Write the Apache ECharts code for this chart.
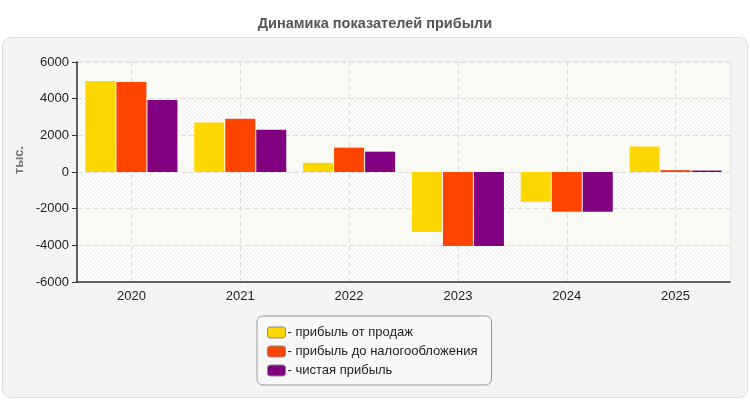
<!DOCTYPE html>
<html><head><meta charset="utf-8">
<script src="https://cdn.jsdelivr.net/npm/echarts@6/dist/echarts.min.js"></script>
<style>html,body{margin:0;padding:0;background:#fff}#c{width:750px;height:400px}</style>
</head><body><div id="c"></div>
<script>
const categories = ['2020','2021','2022','2023','2024','2025'];
const seriesNames = ['прибыль от продаж','прибыль до налогообложения','чистая прибыль'];
const salesProfit = [4970, 2700, 500, -3270, -1625, 1390];
const preTaxProfit = [4910, 2910, 1330, -4030, -2170, 100];
const netProfit = [3930, 2310, 1110, -4030, -2170, 80];
const yTicks = [-6000, -4000, -2000, 0, 2000, 4000, 6000];
const colors = ['#FFD700','#FF4500','#800080'];

function hatch(bg, line){
  const c = document.createElement('canvas');
  c.width = 4; c.height = 4;
  const x = c.getContext('2d');
  x.fillStyle = bg; x.fillRect(0,0,4,4);
  x.strokeStyle = line; x.lineWidth = 1;
  x.beginPath();
  x.moveTo(0,4); x.lineTo(4,0);
  x.moveTo(-2,2); x.lineTo(2,-2);
  x.moveTo(2,6); x.lineTo(6,2);
  x.stroke();
  return {image:c, repeat:'repeat'};
}
const hatchGray = hatch('#ffffff', '#eeeeee');
const hatchCream = hatch('#fdfdf7', '#f6f6ef');

const chart = echarts.init(document.getElementById('c'), null, {renderer:'canvas'});
const data = [salesProfit, preTaxProfit, netProfit];
chart.setOption({
  animation:false,
  textStyle:{fontFamily:'Liberation Sans, Arial, sans-serif'},
  graphic:[{
    type:'rect', z:-10, silent:true,
    shape:{x:2.5, y:37.5, width:745, height:360, r:8},
    style:{fill:'#f4f4f4', stroke:'#dddddd', lineWidth:1}
  },{
    type:'text', silent:true, x:19, y:160, rotation:Math.PI/2,
    style:{text:'тыс.', fill:'#777', font:'bold 13px Liberation Sans, Arial, sans-serif', align:'center', verticalAlign:'middle'}
  }],
  title:{
    text:'Динамика показателей прибыли',
    left:'center', top:11,
    textStyle:{fontSize:14.5, fontWeight:'bold', color:'#555'}
  },
  legend:{
    orient:'vertical', left:257, top:316,
    padding:[10,14,8,10], itemGap:6,
    itemWidth:18, itemHeight:11,
    icon:'roundRect',
    backgroundColor:'#f8f8f8', borderColor:'#999', borderWidth:1, borderRadius:6,
    formatter:'- {name}',
    textStyle:{fontSize:13, color:'#222', padding:[0,0,0,-3]},
    itemStyle:{borderColor:'#888', borderWidth:1},
    data:seriesNames
  },
  grid:{left:77, right:20, top:62, bottom:118, show:true,
    backgroundColor:hatchCream, borderColor:'#dddddd', borderWidth:1},
  xAxis:{
    type:'category', data:categories,
    axisLine:{onZero:false, lineStyle:{color:'#333', width:1.5}},
    axisTick:{alignWithLabel:true, length:5, lineStyle:{color:'#333'}},
    axisLabel:{fontSize:13, color:'#222', margin:8},
    splitLine:{show:true, alignWithLabel:true, lineStyle:{color:'#dddddd', type:[5,3]}}
  },
  yAxis:{
    type:'value', min:yTicks[0], max:yTicks[yTicks.length-1], interval:yTicks[1]-yTicks[0],
    axisLine:{show:true, lineStyle:{color:'#333', width:1.5}},
    axisTick:{show:true, length:5, lineStyle:{color:'#333'}},
    axisLabel:{fontSize:13, color:'#222', margin:8, formatter:v=>String(v)},
    splitLine:{show:true, lineStyle:{color:'#dddddd', type:[5,3]}},
    splitArea:{show:true, areaStyle:{color:[hatchGray, hatchCream]}}
  },
  series: seriesNames.map((n,i)=>({
    name:n, type:'bar', data:data[i],
    barWidth:30, barGap:'3.4%',
    itemStyle:{color:colors[i]}
  }))
});
</script></body></html>
